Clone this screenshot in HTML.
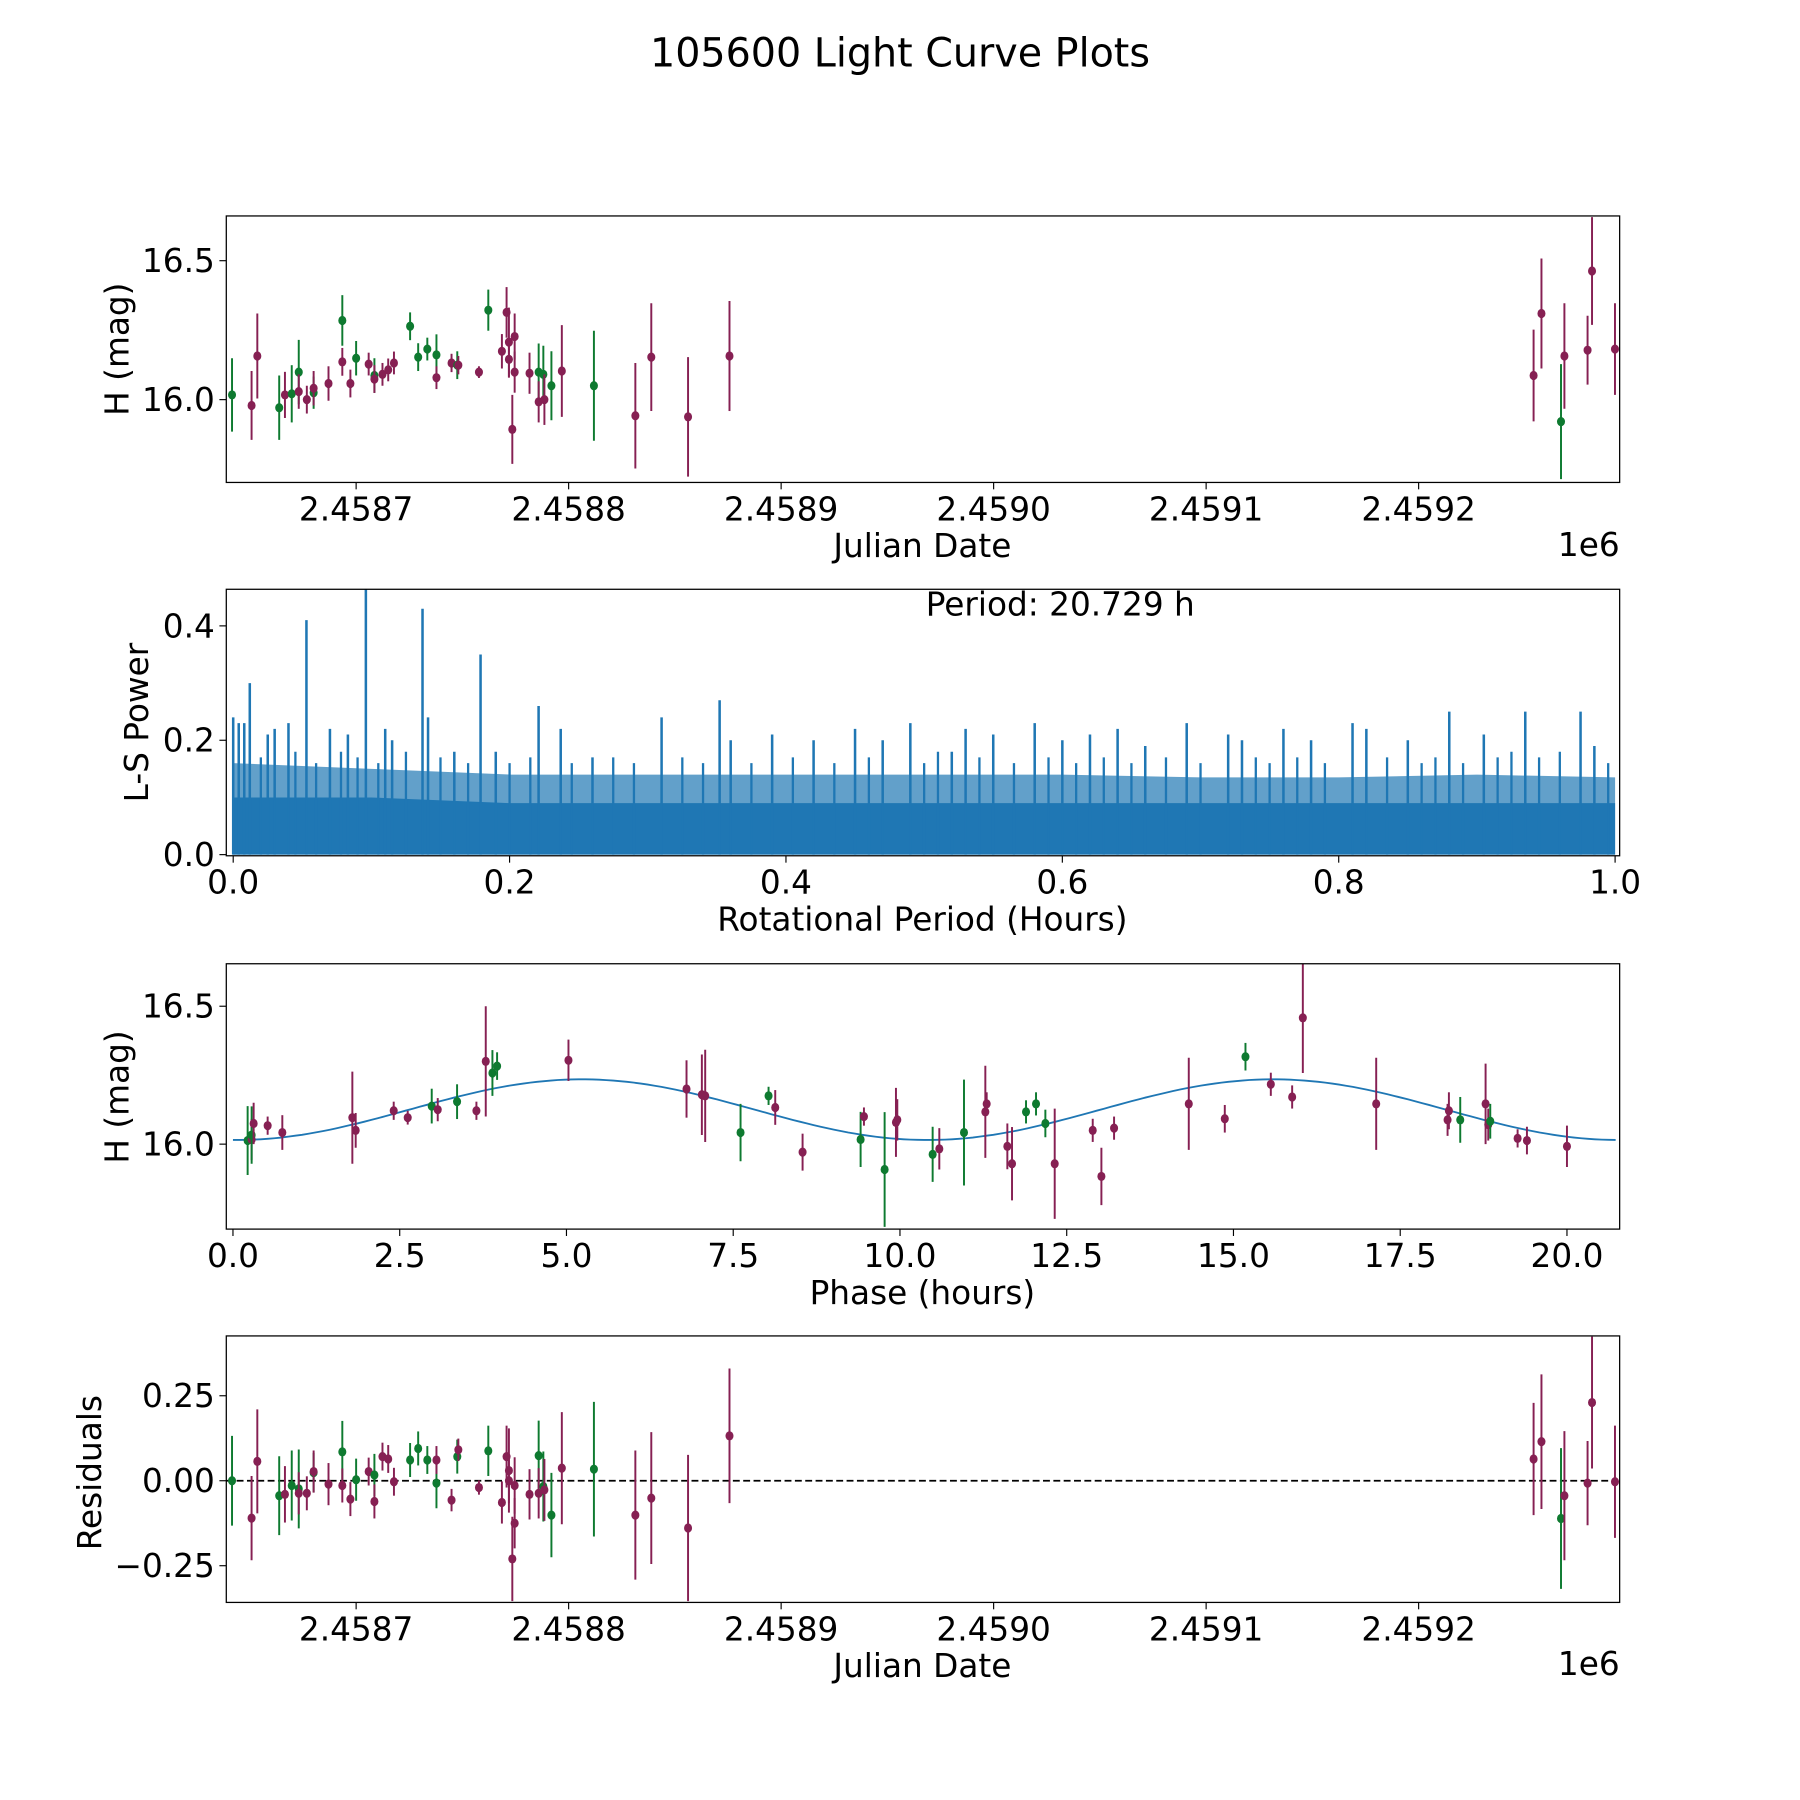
<!DOCTYPE html>
<html><head><meta charset="utf-8">
<style>
html,body{margin:0;padding:0;background:#fff;}
svg{display:block;font-family:"DejaVu Sans","Liberation Sans",sans-serif;}
</style></head>
<body>
<svg id="fig" width="1800" height="1800" viewBox="0 0 1567 1567" xmlns="http://www.w3.org/2000/svg">
<rect width="1567" height="1567" fill="#fff"/>
<text x="783.5" y="58" font-size="34.5" text-anchor="middle">105600 Light Curve Plots</text>
</svg>
<script>
// ---------- Panel 1 / 4 data (JD - 2458000) ----------
const jdOffset = [641.6,650.8,653.5,663.8,666.5,669.7,673.0,673.0,676.8,680.0,680.0,687.0,693.5,693.5,697.3,700.0,705.9,708.6,708.6,712.4,715.1,717.8,725.4,729.2,733.5,737.8,737.8,744.9,747.6,748.1,757.8,762.2,768.6,770.8,771.9,771.9,773.5,774.6,774.6,781.6,785.9,785.9,788.1,788.6,791.9,796.8,811.9,831.4,838.9,856.2,875.7,1254.1,1257.8,1267.0,1268.6,1279.5,1281.6,1292.4];
const magH = [16.017,15.979,16.157,15.971,16.017,16.021,16.099,16.029,16.000,16.025,16.041,16.058,16.285,16.136,16.058,16.149,16.128,16.087,16.074,16.091,16.107,16.132,16.264,16.153,16.182,16.161,16.079,16.132,16.124,16.124,16.099,16.322,16.174,16.314,16.207,16.145,15.893,16.227,16.099,16.095,16.099,15.992,16.091,16.000,16.050,16.103,16.050,15.942,16.153,15.938,16.157,16.087,16.310,15.921,16.157,16.178,16.463,16.182];
const magErr = [0.132,0.124,0.153,0.116,0.083,0.103,0.116,0.062,0.050,0.058,0.062,0.062,0.091,0.050,0.050,0.062,0.041,0.062,0.050,0.041,0.041,0.041,0.050,0.050,0.041,0.074,0.041,0.033,0.050,0.033,0.021,0.074,0.062,0.091,0.124,0.066,0.124,0.083,0.074,0.074,0.103,0.074,0.103,0.091,0.124,0.165,0.198,0.190,0.194,0.215,0.198,0.165,0.198,0.207,0.190,0.124,0.194,0.165];
const filt = ['g','p','p','g','p','g','g','p','p','g','p','p','g','p','p','g','p','g','p','p','p','p','g','g','g','g','p','p','g','p','p','g','p','p','p','p','p','p','p','p','g','p','g','p','g','p','g','p','p','p','p','p','p','g','p','p','p','p'];
const resid = [0.000,-0.110,0.057,-0.044,-0.040,-0.014,-0.024,-0.037,-0.037,0.024,0.027,-0.010,0.085,-0.014,-0.054,0.003,0.027,0.017,-0.061,0.071,0.064,-0.003,0.061,0.095,0.061,-0.007,0.061,-0.057,0.071,0.091,-0.020,0.088,-0.064,0.071,0.030,0.000,-0.230,-0.014,-0.125,-0.040,0.074,-0.037,-0.017,-0.027,-0.101,0.037,0.034,-0.101,-0.051,-0.139,0.132,0.064,0.115,-0.111,-0.044,-0.007,0.230,-0.003];
const jdTicks = [700,800,900,1000,1100,1200];
const jdTickLabels = ['2.4587','2.4588','2.4589','2.4590','2.4591','2.4592'];
// ---------- Panel 2 data ----------
const lsPeakPeriod = [0.0,0.004,0.008,0.012,0.025,0.03,0.04,0.053,0.07,0.083,0.096,0.11,0.115,0.137,0.141,0.16,0.179,0.19,0.221,0.237,0.26,0.31,0.352,0.36,0.39,0.42,0.45,0.47,0.49,0.52,0.53,0.55,0.58,0.60,0.62,0.64,0.66,0.69,0.72,0.73,0.76,0.78,0.81,0.82,0.85,0.88,0.905,0.935,0.975,0.985];
const lsPeakPower = [0.24,0.23,0.23,0.30,0.21,0.22,0.23,0.41,0.22,0.21,0.47,0.22,0.20,0.43,0.24,0.18,0.35,0.18,0.26,0.22,0.17,0.24,0.27,0.20,0.21,0.20,0.22,0.20,0.23,0.18,0.22,0.21,0.23,0.20,0.21,0.22,0.19,0.23,0.21,0.20,0.22,0.20,0.23,0.22,0.20,0.25,0.21,0.25,0.25,0.19];
const lsMidPeriod = [0.02,0.045,0.06,0.078,0.09,0.105,0.125,0.15,0.17,0.2,0.215,0.245,0.275,0.29,0.325,0.34,0.375,0.405,0.435,0.46,0.5,0.51,0.54,0.565,0.59,0.61,0.63,0.65,0.675,0.70,0.74,0.75,0.77,0.79,0.835,0.86,0.87,0.89,0.915,0.925,0.945,0.96,0.995];
const lsMidPower = [0.17,0.18,0.16,0.18,0.17,0.16,0.18,0.17,0.16,0.16,0.17,0.16,0.17,0.16,0.17,0.16,0.16,0.17,0.16,0.17,0.16,0.18,0.17,0.16,0.17,0.16,0.17,0.16,0.17,0.16,0.17,0.16,0.17,0.16,0.17,0.16,0.17,0.16,0.17,0.18,0.17,0.18,0.16];
const lsBandPeriod = [0.0,0.1,0.2,0.3,0.4,0.5,0.6,0.7,0.8,0.9,1.0];
const lsBandDense = [0.10,0.10,0.09,0.09,0.09,0.09,0.09,0.09,0.09,0.09,0.09];
const lsBandSparse = [0.16,0.15,0.14,0.14,0.14,0.14,0.14,0.135,0.135,0.14,0.135];
const lsTicksX = [0,0.2,0.4,0.6,0.8,1.0];
const lsTickLabelsX = ['0.0','0.2','0.4','0.6','0.8','1.0'];
const lsTicksY = [0,0.2,0.4];
const lsTickLabelsY = ['0.0','0.2','0.4'];
// ---------- Panel 3 data ----------
const phaseHrs = [0.22,0.28,0.28,0.31,0.52,0.74,1.79,1.84,2.41,2.62,2.98,3.07,3.36,3.65,3.79,3.89,3.96,5.03,6.80,7.03,7.08,7.61,8.03,8.13,8.54,9.41,9.46,9.77,9.94,9.96,10.49,10.59,10.96,11.28,11.30,11.61,11.68,11.89,12.04,12.18,12.32,12.89,13.02,13.21,14.33,14.87,15.18,15.56,15.88,16.04,17.14,18.21,18.23,18.40,18.78,18.82,18.85,19.26,19.40,20.00];
const phaseMag = [16.013,16.017,16.033,16.075,16.067,16.042,16.096,16.050,16.121,16.096,16.138,16.125,16.154,16.121,16.300,16.258,16.283,16.304,16.200,16.179,16.175,16.042,16.175,16.133,15.971,16.017,16.100,15.908,16.079,16.088,15.963,15.983,16.042,16.117,16.146,15.992,15.929,16.117,16.146,16.075,15.929,16.050,15.883,16.058,16.146,16.092,16.317,16.217,16.171,16.458,16.146,16.088,16.121,16.088,16.146,16.071,16.083,16.021,16.013,15.992];
const phaseErr = [0.125,0.075,0.104,0.075,0.033,0.063,0.167,0.063,0.033,0.025,0.063,0.042,0.063,0.033,0.200,0.083,0.050,0.075,0.104,0.146,0.167,0.104,0.033,0.063,0.067,0.100,0.033,0.208,0.125,0.075,0.100,0.075,0.192,0.167,0.042,0.083,0.133,0.042,0.042,0.050,0.200,0.042,0.104,0.042,0.167,0.050,0.050,0.042,0.042,0.200,0.167,0.058,0.067,0.083,0.146,0.058,0.063,0.033,0.050,0.075];
const phaseFilt = ['g','p','g','p','p','p','p','p','p','p','g','p','g','p','p','g','g','p','p','p','p','g','g','p','p','g','p','g','p','p','g','p','g','p','p','p','p','g','g','g','p','p','p','p','p','p','g','p','p','p','p','p','p','g','p','p','g','p','p','p'];
const modelMean = 16.125, modelAmp = 0.11, modelHalfPeriod = 10.3645, modelPhase0 = 0.05, periodHours = 20.729;
const phTicks = [0,2.5,5,7.5,10,12.5,15,17.5,20];
const phTickLabels = ['0.0','2.5','5.0','7.5','10.0','12.5','15.0','17.5','20.0'];
const magTicks = [16.0,16.5];
const magTickLabels = ['16.0','16.5'];
const resTicks = [-0.25,0,0.25];
const resTickLabels = ['\u22120.25','0.00','0.25'];

const NS='http://www.w3.org/2000/svg';
const fig=document.getElementById('fig');
const COL={g:'#0e7a30',p:'#862053'};
function mk(tag,attrs,parent){const e=document.createElementNS(NS,tag);for(const k in attrs)e.setAttribute(k,attrs[k]);(parent||fig).appendChild(e);return e;}
function axes(id,x0,y0,x1,y1,xmin,xmax,ymin,ymax){
  const g=mk('g',{});
  
  
  const cp=mk('clipPath',{id:'clip-'+id},g);mk('rect',{x:x0,y:y0,width:x1-x0,height:y1-y0},cp);
  const plot=mk('g',{'clip-path':'url(#clip-'+id+')'},g);
  
  
  return {g,plot,x0,y0,x1,y1,sx:v=>x0+(v-xmin)/(xmax-xmin)*(x1-x0),sy:v=>y1-(v-ymin)/(ymax-ymin)*(y1-y0)};
}
function frame(a){const r=mk('rect',{x:a.x0,y:a.y0,width:a.x1-a.x0,height:a.y1-a.y0,fill:'none',stroke:'#000','stroke-width':1.1},a.g);}
function xticks(a,vals,labels,name){vals.forEach((v,i)=>{const x=a.sx(v);mk('line',{x1:x,x2:x,y1:a.y1,y2:a.y1+6,stroke:'#000','stroke-width':1},a.g);const t=mk('text',{x:x,y:a.y1+33,'font-size':28.5,'text-anchor':'middle'},a.g);t.textContent=labels[i];});}
function yticks(a,vals,labels,name){vals.forEach((v,i)=>{const y=a.sy(v);mk('line',{x1:a.x0-6,x2:a.x0,y1:y,y2:y,stroke:'#000','stroke-width':1},a.g);const t=mk('text',{x:a.x0-10,y:y+10,'font-size':28.5,'text-anchor':'end'},a.g);t.textContent=labels[i];});}
function label(a,txt,x,y,rot,name){const t=mk('text',{x:x,y:y,'font-size':28.5,'text-anchor':'middle'},a.g);if(rot)t.setAttribute('transform','rotate(-90 '+x+' '+y+')');t.textContent=txt;}
function errpts(a,xs,ys,es,fs,name){xs.forEach((xv,i)=>{const x=a.sx(xv),y=a.sy(ys[i]);const c=COL[fs[i]];const l=mk('line',{x1:x,x2:x,y1:a.sy(ys[i]+es[i]),y2:a.sy(ys[i]-es[i]),stroke:c,'stroke-width':1.7},a.plot);const p=mk('ellipse',{cx:x,cy:y,rx:3.5,ry:4},a.plot);p.setAttribute('fill',c);});}

// Panel 1
const a1=axes('light-curve',197,188,1410,420,638.9,1294.6,15.702,16.661);
errpts(a1,jdOffset,magH,magErr,filt,'observation');
frame(a1);xticks(a1,jdTicks,jdTickLabels,'julian-date');yticks(a1,magTicks,magTickLabels,'magnitude');
label(a1,'Julian Date',803,485,false,'x-axis-title');label(a1,'H (mag)',112,304,true,'y-axis-title');
{const t=mk('text',{x:1410,y:484,'font-size':28.5,'text-anchor':'end'},a1.g);t.textContent='1e6';}

// Panel 2
const a2=axes('periodogram',197,513,1410,745,-0.005,1.0033,-0.002,0.464);
{let d1='M'+a2.sx(lsBandPeriod[0])+' '+a2.sy(0),d2=d1;lsBandPeriod.forEach((v,i)=>{d1+=' L'+a2.sx(v)+' '+a2.sy(lsBandDense[i]);d2+=' L'+a2.sx(v)+' '+a2.sy(lsBandSparse[i]);});d1+=' L'+a2.sx(1)+' '+a2.sy(0)+'Z';d2+=' L'+a2.sx(1)+' '+a2.sy(0)+'Z';
const s=mk('path',{d:d2,fill:'#1f77b4','fill-opacity':0.7},a2.plot);
const b=mk('path',{d:d1,fill:'#1f77b4'},a2.plot);}
lsMidPeriod.forEach((v,i)=>{const x=a2.sx(v);const l=mk('line',{x1:x,x2:x,y1:a2.sy(0),y2:a2.sy(lsMidPower[i]),stroke:'#1f77b4','stroke-width':2},a2.plot);});
lsPeakPeriod.forEach((v,i)=>{const x=a2.sx(v);const l=mk('line',{x1:x,x2:x,y1:a2.sy(0),y2:a2.sy(lsPeakPower[i]),stroke:'#1f77b4','stroke-width':2.2},a2.plot);});
frame(a2);xticks(a2,lsTicksX,lsTickLabelsX,'period');yticks(a2,lsTicksY,lsTickLabelsY,'power');
label(a2,'Rotational Period (Hours)',803,810,false,'x-axis-title');label(a2,'L-S Power',129,629,true,'y-axis-title');
{const t=mk('text',{x:923,y:536,'font-size':28.5,'text-anchor':'middle'},a2.g);t.textContent='Period: '+periodHours.toFixed(3)+' h';}

// Panel 3
const a3=axes('phase-curve',197,839,1410,1070,-0.10,20.79,15.692,16.654);
{let d='';for(let k=0;k<=200;k++){const t=periodHours*k/200;const m=modelMean-modelAmp*Math.cos(2*Math.PI*(t-modelPhase0)/modelHalfPeriod);d+=(k?' L':'M')+a3.sx(t).toFixed(1)+' '+a3.sy(m).toFixed(1);}
const c=mk('path',{d:d,fill:'none',stroke:'#1f77b4','stroke-width':1.6},a3.plot);}
errpts(a3,phaseHrs,phaseMag,phaseErr,phaseFilt,'phased-observation');
frame(a3);xticks(a3,phTicks,phTickLabels,'phase');yticks(a3,magTicks,magTickLabels,'magnitude');
label(a3,'Phase (hours)',803,1135,false,'x-axis-title');label(a3,'H (mag)',112,955,true,'y-axis-title');

// Panel 4
const a4=axes('residuals',197,1163,1410,1395,638.9,1294.6,-0.358,0.426);
{const y=a4.sy(0);const l=mk('line',{x1:a4.x0,x2:a4.x1,y1:y,y2:y,stroke:'#000','stroke-width':1.6,'stroke-dasharray':'6,3'},a4.plot);}
errpts(a4,jdOffset,resid,magErr,filt,'residual');
frame(a4);xticks(a4,jdTicks,jdTickLabels,'julian-date');yticks(a4,resTicks,resTickLabels,'residual');
label(a4,'Julian Date',803,1460,false,'x-axis-title');label(a4,'Residuals',88,1282,true,'y-axis-title');
{const t=mk('text',{x:1410,y:1458,'font-size':28.5,'text-anchor':'end'},a4.g);t.textContent='1e6';}
</script>
</body></html>
